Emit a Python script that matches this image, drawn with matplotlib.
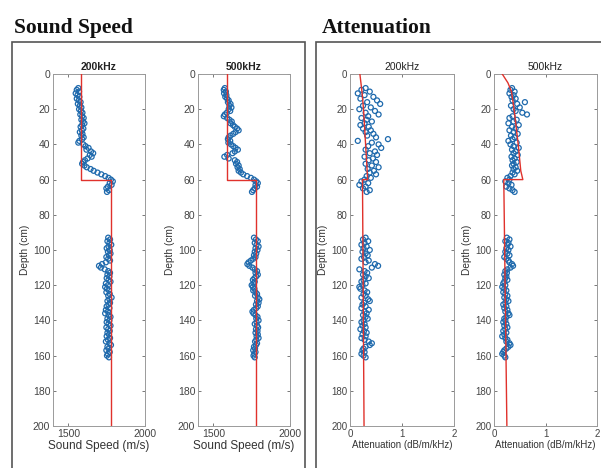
import matplotlib
matplotlib.use("Agg")
import matplotlib.pyplot as plt
from matplotlib.patches import Rectangle

# measurement depths (cm)
depth_top = [8, 9, 10, 11, 12, 13, 14, 15, 16, 17, 18, 19, 20, 21, 22, 23, 24, 25, 26, 27,
             28, 29, 30, 31, 32, 33, 34, 35, 36, 37, 38, 39, 40, 41, 42, 43, 44, 45, 46, 47,
             48, 49, 50, 51, 52, 53, 54, 55, 56, 57, 58, 59, 60, 61, 62, 63, 64, 65, 66, 67]
depth_bot = [93, 94, 95, 96, 97, 98, 99, 100, 101, 102, 103, 104, 105, 106, 107, 108, 109,
             110, 111, 112, 113, 114, 115, 116, 117, 118, 119, 120, 121, 122, 123, 124, 125,
             126, 127, 128, 129, 130, 131, 132, 133, 134, 135, 136, 137, 138, 139, 140, 141,
             142, 143, 144, 145, 146, 147, 148, 149, 150, 151, 152, 153, 154, 155, 156, 157,
             158, 159, 160, 161]

# sound speed 200 kHz (m/s)
ss200_top = [1565, 1555, 1570, 1548, 1560, 1572, 1555, 1568, 1580, 1562, 1575, 1585, 1570,
             1582, 1592, 1578, 1590, 1600, 1585, 1595, 1605, 1590, 1580, 1598, 1588, 1575,
             1592, 1585, 1600, 1590, 1572, 1565, 1598, 1612, 1632, 1618, 1648, 1662, 1640,
             1652, 1625, 1608, 1596, 1590, 1605, 1620, 1645, 1665, 1690, 1715, 1740, 1762,
             1778, 1790, 1770, 1782, 1758, 1748, 1765, 1752]
ss200_bot = [1760, 1772, 1755, 1768, 1780, 1762, 1750, 1770, 1758, 1775, 1765, 1748, 1760,
             1772, 1745, 1720, 1700, 1712, 1738, 1760, 1772, 1755, 1768, 1750, 1762, 1775,
             1745, 1758, 1740, 1752, 1765, 1748, 1770, 1760, 1782, 1768, 1755, 1772, 1762,
             1750, 1768, 1745, 1758, 1740, 1762, 1775, 1755, 1768, 1750, 1762, 1775, 1748,
             1760, 1770, 1755, 1765, 1750, 1772, 1758, 1745, 1768, 1778, 1755, 1762, 1748,
             1770, 1758, 1752, 1765]

# sound speed 500 kHz (m/s)
ss500_top = [1575, 1568, 1582, 1570, 1585, 1578, 1590, 1600, 1595, 1612, 1605, 1618, 1600,
             1610, 1588, 1575, 1568, 1590, 1605, 1620, 1612, 1628, 1640, 1655, 1665, 1645,
             1630, 1612, 1600, 1595, 1610, 1598, 1615, 1630, 1645, 1660, 1640, 1625, 1590,
             1572, 1600, 1640, 1655, 1648, 1665, 1658, 1672, 1665, 1680, 1695, 1720, 1745,
             1765, 1780, 1790, 1775, 1785, 1770, 1760, 1752]
ss500_bot = [1765, 1778, 1790, 1770, 1782, 1795, 1775, 1788, 1770, 1780, 1765, 1775, 1760,
             1745, 1730, 1722, 1735, 1755, 1770, 1785, 1775, 1790, 1780, 1768, 1758, 1770,
             1762, 1750, 1758, 1768, 1760, 1775, 1785, 1772, 1790, 1800, 1785, 1795, 1778,
             1790, 1780, 1765, 1755, 1762, 1775, 1788, 1780, 1795, 1782, 1770, 1785, 1792,
             1778, 1788, 1775, 1790, 1782, 1795, 1780, 1772, 1785, 1778, 1765, 1772, 1760,
             1775, 1768, 1762, 1770]

# attenuation 200 kHz (dB/m/kHz)
at200_top = [0.30, 0.22, 0.38, 0.15, 0.28, 0.45, 0.20, 0.52, 0.33, 0.58, 0.25, 0.40, 0.18,
             0.48, 0.30, 0.55, 0.35, 0.22, 0.32, 0.42, 0.28, 0.20, 0.36, 0.25, 0.40, 0.30,
             0.45, 0.33, 0.50, 0.73, 0.15, 0.42, 0.55, 0.35, 0.60, 0.30, 0.48, 0.38, 0.52,
             0.28, 0.44, 0.36, 0.50, 0.30, 0.42, 0.55, 0.34, 0.46, 0.38, 0.50, 0.32, 0.40,
             0.28, 0.22, 0.35, 0.18, 0.30, 0.25, 0.38, 0.32]
at200_bot = [0.30, 0.25, 0.35, 0.28, 0.22, 0.32, 0.26, 0.38, 0.24, 0.30, 0.34, 0.27, 0.22,
             0.36, 0.30, 0.48, 0.54, 0.42, 0.18, 0.28, 0.33, 0.25, 0.30, 0.36, 0.26, 0.22,
             0.30, 0.24, 0.18, 0.20, 0.28, 0.33, 0.26, 0.30, 0.22, 0.35, 0.38, 0.27, 0.24,
             0.30, 0.22, 0.36, 0.28, 0.32, 0.25, 0.30, 0.34, 0.26, 0.22, 0.28, 0.24, 0.30,
             0.20, 0.27, 0.32, 0.24, 0.30, 0.22, 0.28, 0.36, 0.42, 0.38, 0.30, 0.26, 0.24,
             0.28, 0.22, 0.26, 0.30]

# attenuation 500 kHz (dB/m/kHz)
at500_top = [0.35, 0.32, 0.40, 0.30, 0.38, 0.34, 0.42, 0.36, 0.60, 0.45, 0.33, 0.50, 0.38,
             0.42, 0.55, 0.64, 0.36, 0.30, 0.44, 0.38, 0.28, 0.48, 0.35, 0.42, 0.30, 0.38,
             0.46, 0.33, 0.40, 0.36, 0.28, 0.44, 0.32, 0.38, 0.48, 0.35, 0.42, 0.38, 0.46,
             0.34, 0.40, 0.36, 0.44, 0.38, 0.35, 0.42, 0.38, 0.45, 0.36, 0.40, 0.32, 0.26,
             0.30, 0.22, 0.28, 0.34, 0.24, 0.30, 0.36, 0.40]
at500_bot = [0.25, 0.30, 0.22, 0.28, 0.26, 0.32, 0.24, 0.28, 0.22, 0.26, 0.30, 0.20, 0.24,
             0.28, 0.30, 0.35, 0.37, 0.32, 0.26, 0.22, 0.25, 0.20, 0.24, 0.22, 0.26, 0.20,
             0.18, 0.22, 0.16, 0.20, 0.24, 0.18, 0.22, 0.26, 0.20, 0.24, 0.28, 0.22, 0.18,
             0.24, 0.20, 0.26, 0.22, 0.28, 0.30, 0.24, 0.20, 0.22, 0.18, 0.24, 0.20, 0.26,
             0.22, 0.18, 0.24, 0.20, 0.16, 0.22, 0.26, 0.24, 0.30, 0.32, 0.28, 0.24, 0.20,
             0.18, 0.16, 0.20, 0.22]

# fitted model profiles (red lines)
ss200_model_depth = [0, 60, 60, 200]
ss200_model = [1585, 1585, 1778, 1778]
ss500_model_depth = [0, 60, 60, 200]
ss500_model = [1590, 1590, 1778, 1778]
at200_model_depth = [0, 10, 20, 40, 60, 60, 200]
at200_model = [0.19, 0.23, 0.26, 0.30, 0.34, 0.24, 0.27]
at500_model_depth = [0, 5, 10, 20, 40, 55, 60, 60, 200]
at500_model = [0.16, 0.27, 0.34, 0.39, 0.47, 0.52, 0.56, 0.19, 0.25]

titles = ["200kHz", "500kHz"]

W, H = 601, 468
plt.rcParams["font.family"] = ["Liberation Sans", "DejaVu Sans"]

fig = plt.figure(figsize=(W / 100, H / 100), dpi=100)


def px_rect(left, right, top, bottom):
    return [left / W, 1 - bottom / H, (right - left) / W, (bottom - top) / H]


BLUE = "#1f6aad"
RED = "#e0322c"


def panel(rect, d_top, v_top, d_bot, v_bot, md, mv, title, xlim, xticks, xlabel,
          fs_tick, fs_label, bold):
    ax = fig.add_axes(rect)
    ax.scatter(v_top, d_top, s=13, facecolors="none", edgecolors=BLUE, linewidths=0.9, zorder=2)
    ax.scatter(v_bot, d_bot, s=13, facecolors="none", edgecolors=BLUE, linewidths=0.9, zorder=2)
    ax.plot(mv, md, color=RED, lw=1.0, zorder=3)
    ax.set_xlim(*xlim)
    ax.set_ylim(200, 0)
    ax.set_xticks(xticks)
    ax.set_yticks([0, 20, 40, 60, 80, 100, 120, 140, 160, 180, 200])
    ax.tick_params(direction="in", top=True, right=True, length=2.5, width=0.5,
                   labelsize=fs_tick, colors="#444444", pad=2)
    for sp in ax.spines.values():
        sp.set_color("#9a9a9a")
        sp.set_linewidth(0.7)
    ax.set_xlabel(xlabel, fontsize=fs_label, color="#333333", labelpad=1)
    ax.set_ylabel("Depth (cm)", fontsize=7.3, color="#333333", labelpad=2)
    ax.set_title(title, fontsize=7.5, fontweight="bold" if bold else "normal",
                 color="#222222", pad=3)
    return ax


panel(px_rect(53, 145, 74, 426), depth_top, ss200_top, depth_bot, ss200_bot,
      ss200_model_depth, ss200_model, titles[0], (1400, 2000), [1500, 2000],
      "Sound Speed (m/s)", 7.5, 8.5, True)
panel(px_rect(198, 290, 74, 426), depth_top, ss500_top, depth_bot, ss500_bot,
      ss500_model_depth, ss500_model, titles[1], (1400, 2000), [1500, 2000],
      "Sound Speed (m/s)", 7.5, 8.5, True)
panel(px_rect(350, 454, 74, 426), depth_top, at200_top, depth_bot, at200_bot,
      at200_model_depth, at200_model, titles[0], (0, 2), [0, 1, 2],
      "Attenuation (dB/m/kHz)", 7.0, 7.0, False)
panel(px_rect(494, 597, 74, 426), depth_top, at500_top, depth_bot, at500_bot,
      at500_model_depth, at500_model, titles[1], (0, 2), [0, 1, 2],
      "Attenuation (dB/m/kHz)", 7.0, 7.0, False)

# framing boxes around each group
fig.patches.append(Rectangle((12 / W, -0.05), (305 - 12) / W, 1.05 - 42 / H,
                             transform=fig.transFigure, fill=False,
                             edgecolor="#555555", lw=1.2))
fig.patches.append(Rectangle((316 / W, -0.05), (610 - 316) / W, 1.05 - 42 / H,
                             transform=fig.transFigure, fill=False,
                             edgecolor="#555555", lw=1.2))

fig.text(14 / W, 1 - 33 / H, "Sound Speed", fontsize=15.5, fontweight="bold",
         family=["Liberation Serif", "DejaVu Serif"], color="#111111")
fig.text(322 / W, 1 - 33 / H, "Attenuation", fontsize=15.5, fontweight="bold",
         family=["Liberation Serif", "DejaVu Serif"], color="#111111")

fig.savefig("out.png", dpi=100)
